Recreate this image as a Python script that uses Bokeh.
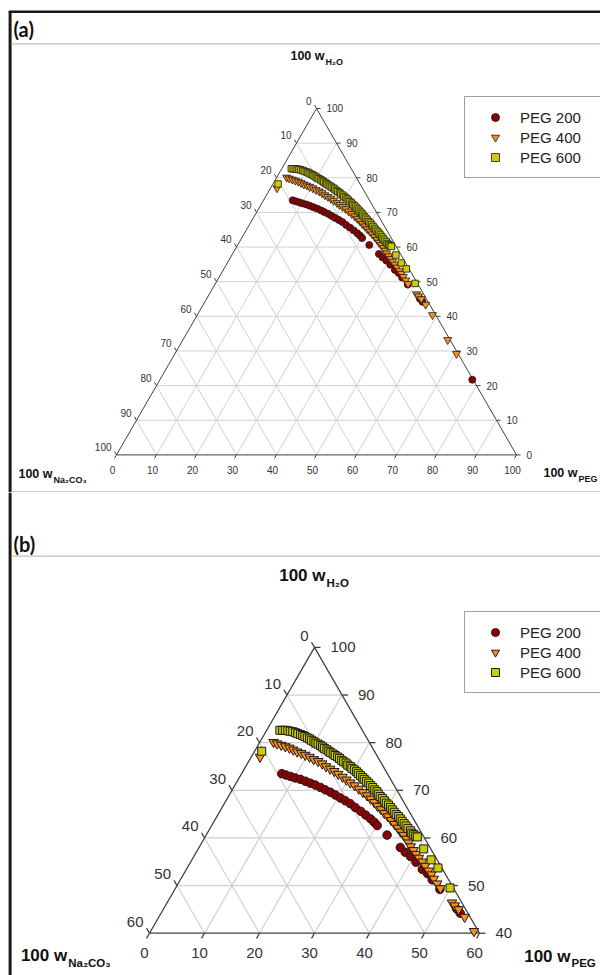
import math
from bokeh.plotting import figure
from bokeh.models import Legend, LegendItem, ColumnDataSource
from bokeh.layouts import column
from bokeh.embed import file_html
from bokeh.resources import INLINE
from bokeh.core.properties import value

# ---------------- data (100 w) ----------------
peg200_w_peg = [7.3, 8.2, 9.2, 10.2, 11.3, 12.4, 13.5, 14.6, 15.8, 16.9, 18.1, 19.3,
                20.5, 21.7, 22.9, 24.2, 25.6, 26.9, 28.2, 29.2, 30.1, 32.9, 36.6, 38.0,
                39.4, 41.0, 42.9, 44.3, 45.8, 48.2, 53.3, 54.4, 78.1]
peg200_w_h2o = [73.5, 73.2, 72.9, 72.6, 72.3, 71.9, 71.5, 71.1, 70.6, 70.1, 69.6, 69.0,
                68.4, 67.8, 67.2, 66.4, 65.6, 64.8, 64.0, 63.3, 62.6, 60.6, 58.0, 57.0,
                56.1, 54.9, 53.4, 52.5, 51.2, 49.2, 45.1, 44.2, 21.7]

peg400_w_peg = [2.5, 3.3, 4.2, 5.1, 6.0, 6.9, 7.8, 8.7, 9.6, 10.6, 11.6, 12.6, 13.6, 14.6,
                15.6, 16.6, 17.6, 18.7, 19.7, 20.7, 21.8, 22.9, 24.0, 25.1, 26.1, 27.1,
                28.1, 29.1, 30.1, 31.1, 32.1, 33.1, 34.1, 35.0, 35.9, 36.8, 37.6, 38.4,
                39.3, 40.2, 41.1, 42.1, 43.1, 44.2, 45.1, 46.0, 47.1, 48.2, 51.8, 52.6,
                53.7, 55.6, 58.8, 66.2, 70.4, 1.6]
peg400_w_h2o = [80.1, 79.8, 79.5, 79.2, 78.9, 78.5, 78.1, 77.8, 77.4, 77.0, 76.5, 76.1, 75.6, 75.0,
                74.5, 74.0, 73.4, 72.8, 72.2, 71.6, 71.0, 70.3, 69.6, 68.9, 68.2, 67.5,
                66.7, 66.0, 65.2, 64.5, 63.7, 62.9, 62.1, 61.3, 60.6, 59.8, 59.0, 58.2,
                57.4, 56.6, 55.8, 55.0, 54.1, 53.1, 52.3, 51.4, 50.4, 49.4, 46.4, 45.8,
                45.0, 43.4, 40.4, 33.2, 29.2, 77.0]

peg600_w_peg = [2.4, 2.9, 3.4, 3.9, 4.4, 4.9, 5.5, 6.0, 6.6, 7.1, 7.6, 8.2, 8.7, 9.2,
                9.8, 10.3, 10.8, 11.4, 11.9, 12.4, 13.0, 13.5, 14.0, 14.6, 15.1, 15.7,
                16.2, 16.8, 17.3, 17.9, 18.4, 19.0, 19.5, 20.1, 20.7, 21.2, 21.8, 22.4,
                22.9, 23.5, 24.1, 24.7, 25.3, 25.9, 26.5, 27.0, 27.6, 28.2, 28.8, 29.4,
                30.0, 30.6, 31.2, 31.8, 32.4, 33.0, 33.6, 34.2, 34.8, 35.4, 36.0, 36.7,
                37.2, 37.7, 38.2, 38.6, 41.0, 43.5, 45.6, 49.9, 1.3]
peg600_w_h2o = [82.6, 82.6, 82.6, 82.5, 82.4, 82.3, 82.1, 81.9, 81.7, 81.5, 81.3, 81.0, 80.8, 80.5,
                80.2, 79.9, 79.7, 79.4, 79.1, 78.8, 78.5, 78.2, 77.9, 77.6, 77.3, 77.0,
                76.7, 76.3, 76.0, 75.7, 75.3, 75.0, 74.6, 74.3, 73.9, 73.5, 73.1, 72.7,
                72.3, 71.9, 71.5, 71.0, 70.6, 70.1, 69.7, 69.2, 68.7, 68.3, 67.8, 67.3,
                66.9, 66.4, 65.9, 65.4, 64.9, 64.5, 64.0, 63.5, 63.0, 62.5, 62.0, 61.5,
                61.0, 60.7, 60.4, 60.2, 57.7, 55.4, 53.7, 49.5, 78.2]

series_names = ["PEG 200", "PEG 400", "PEG 600"]
series_peg = [peg200_w_peg, peg400_w_peg, peg600_w_peg]
series_h2o = [peg200_w_h2o, peg400_w_h2o, peg600_w_h2o]
series_markers = ["circle", "inverted_triangle", "square"]
series_colors = ["#8b0000", "#f7901e", "#cccc00"]

panel_labels = ["(a)", "(b)"]
tick_step = 10

S3 = math.sqrt(3) / 2.0
FONT = "Liberation Sans"


def cart(peg, h2o):
    return peg + h2o / 2.0, h2o * S3


def add_text(p, xs, ys, texts, size, align="left", baseline="middle",
             color="#333333", bold=False, font=FONT):
    p.text(x=xs, y=ys, text=texts, text_font=value(font), text_font_size=size,
           text_align=align, text_baseline=baseline, text_color=color,
           text_font_style="bold" if bold else "normal")


def make_panel(cfg):
    k = cfg["scale"]
    ox, oy = cfg["origin_px"]
    cx0, cy0 = cfg["origin_cart"]
    top, hgt = cfg["page_top"], cfg["height"]
    lo = cfg["lo"]
    span = 100 - lo

    def X(px):
        return cx0 + (px - ox) / k

    def Y(py):
        return cy0 + (oy - py) / k

    p = figure(width=600, height=hgt, x_range=(X(0), X(600)),
               y_range=(Y(top + hgt), Y(top)), output_backend="svg",
               toolbar_location=None, min_border=0, x_axis_type=None,
               y_axis_type=None)
    p.outline_line_color = None
    p.background_fill_color = "white"
    p.border_fill_color = "white"

    # frame decorations (page pixel positions)
    for (x0, y0, x1, y1, c, w) in cfg["frame_lines"]:
        p.line([X(x0), X(x1)], [Y(y0), Y(y1)], line_color=c, line_width=w)

    # grid
    gx, gy = [], []
    for v in range(lo + tick_step, 100, tick_step):           # constant H2O
        a, b = cart(0, v), cart(100 - v, v)
        gx.append([a[0], b[0]]); gy.append([a[1], b[1]])
    for v in range(tick_step, span, tick_step):               # constant PEG
        a, b = cart(v, lo), cart(v, 100 - v)
        gx.append([a[0], b[0]]); gy.append([a[1], b[1]])
    for v in range(tick_step, span, tick_step):               # constant Na2CO3
        a, b = cart(0, 100 - v), cart(span - v, lo)
        gx.append([a[0], b[0]]); gy.append([a[1], b[1]])
    p.multi_line(gx, gy, line_color="#d0d0d0", line_width=cfg["grid_w"])

    # triangle edges
    verts = [cart(0, 100), cart(0, lo), cart(span, lo), cart(0, 100)]
    p.line([v[0] for v in verts], [v[1] for v in verts], line_color="#404040",
           line_width=cfg["edge_w"])

    # ticks and tick labels
    tl = cfg["tick_len"] / k
    tx, ty = [], []
    lx, ly, lt = [], [], []
    rx, ry, rt = [], [], []
    bx, by, bt = [], [], []
    offL, offR, offB = cfg["off_left"], cfg["off_right"], cfg["off_base"]
    for na in range(0, span + 1, tick_step):
        px_, py_ = cart(0, 100 - na)
        tx.append([px_, px_ - 0.5 * tl]); ty.append([py_, py_ + S3 * tl])
        lx.append(px_ + offL[0] / k); ly.append(py_ - offL[1] / k); lt.append(str(na))
    for h in range(lo, 101, tick_step):
        px_, py_ = cart(100 - h, h)
        tx.append([px_, px_ + tl]); ty.append([py_, py_])
        rx.append(px_ + offR[0] / k); ry.append(py_ - offR[1] / k); rt.append(str(h))
    for pg in range(0, span + 1, tick_step):
        px_, py_ = cart(pg, lo)
        tx.append([px_, px_ - 0.5 * tl]); ty.append([py_, py_ - S3 * tl])
        bx.append(px_ + offB[0] / k); by.append(py_ - offB[1] / k); bt.append(str(pg))
    p.multi_line(tx, ty, line_color="#404040", line_width=cfg["edge_w"])
    fs = cfg["tick_font"]
    add_text(p, lx, ly, lt, fs, align="right")
    add_text(p, rx, ry, rt, fs, align="left")
    add_text(p, bx, by, bt, fs, align="center")

    # axis titles: (main right edge px, main y px, sub y px, subscript)
    for (xr, ym, ys, sub) in cfg["titles"]:
        add_text(p, [X(xr)], [Y(ym)], ["100 w"], cfg["title_font"], align="right",
                 color="#111111", bold=True)
        add_text(p, [X(xr + 1)], [Y(ys)], [sub], cfg["sub_font"], align="left",
                 color="#111111", bold=True)

    # panel label
    add_text(p, [X(13)], [Y(cfg["label_y"])], [cfg["label"]], "20px", align="left",
             color="#111111", bold=True, font="Lato")

    # data
    renderers = []
    for name, pegs, h2os, mk, col, sz in zip(series_names, series_peg, series_h2o,
                                             series_markers, series_colors, cfg["msize"]):
        xs, ys = [], []
        for a, b in zip(pegs, h2os):
            if b >= lo:
                c = cart(a, b)
                xs.append(c[0]); ys.append(c[1])
        src = ColumnDataSource(dict(x=xs, y=ys))
        r = p.scatter("x", "y", source=src, marker=mk, size=sz, fill_color=col,
                      line_color="#1a1a1a", line_width=cfg["mline"])
        renderers.append(r)

    legend = Legend(items=[LegendItem(label=n, renderers=[r])
                           for n, r in zip(series_names, renderers)],
                    location=cfg["legend_loc"], orientation="vertical",
                    padding=10, spacing=0, margin=0, glyph_width=40,
                    glyph_height=20, label_height=20, label_width=70,
                    label_standoff=5, label_text_font=FONT,
                    label_text_font_size="15px", label_text_color="#222222",
                    border_line_color="#404040", border_line_width=1,
                    background_fill_color="white", background_fill_alpha=1.0)
    p.add_layout(legend)
    return p


cfgA = dict(scale=4.0, origin_px=(116.0, 454.4), origin_cart=(0.0, 0.0),
            page_top=0, height=492, lo=0, grid_w=1.0, edge_w=1.0, tick_len=4,
            off_left=(-5, -7.7), off_right=(10, 0), off_base=(-4, 14.6),
            tick_font="10px", title_font="12.5px", sub_font="9px",
            titles=[(324, 55, 61, "H\u2082O"), (52, 473, 479, "Na\u2082CO\u2083"),
                    (577, 472.3, 478, "PEG")],
            label="(a)", label_y=28, msize=[7, 8, 6.5], mline=0.8,
            legend_loc=(464, 314),
            frame_lines=[(8.3, 11.3, 600, 11.3, "#1a1a1a", 2.5),
                         (9.6, 10.5, 9.6, 492, "#1a1a1a", 3),
                         (11, 43.3, 600, 43.3, "#bfbfbf", 1.2),
                         (11, 491.3, 600, 491.3, "#bfbfbf", 1.2)])

cfgB = dict(scale=5.5, origin_px=(149.0, 932.7), origin_cart=cart(0, 40),
            page_top=492, height=483, lo=40, grid_w=1.2, edge_w=1.3, tick_len=6,
            off_left=(-6, -11.5), off_right=(16, 0), off_base=(-5, 19.5),
            tick_font="15px", title_font="17px", sub_font="11.5px",
            titles=[(325, 575, 582.5, "H\u2082O"), (66.7, 955, 962, "Na\u2082CO\u2083"),
                    (570, 956, 962.5, "PEG")],
            label="(b)", label_y=543, msize=[8.5, 9.5, 8], mline=1.0,
            legend_loc=(464, 282),
            frame_lines=[(9.6, 492, 9.6, 975, "#1a1a1a", 3),
                         (11, 555.7, 600, 555.7, "#bfbfbf", 1.2)])

pA = make_panel(cfgA)
pB = make_panel(cfgB)
layout = column(pA, pB, spacing=0)

open("out.html", "w").write(file_html(layout, INLINE))
